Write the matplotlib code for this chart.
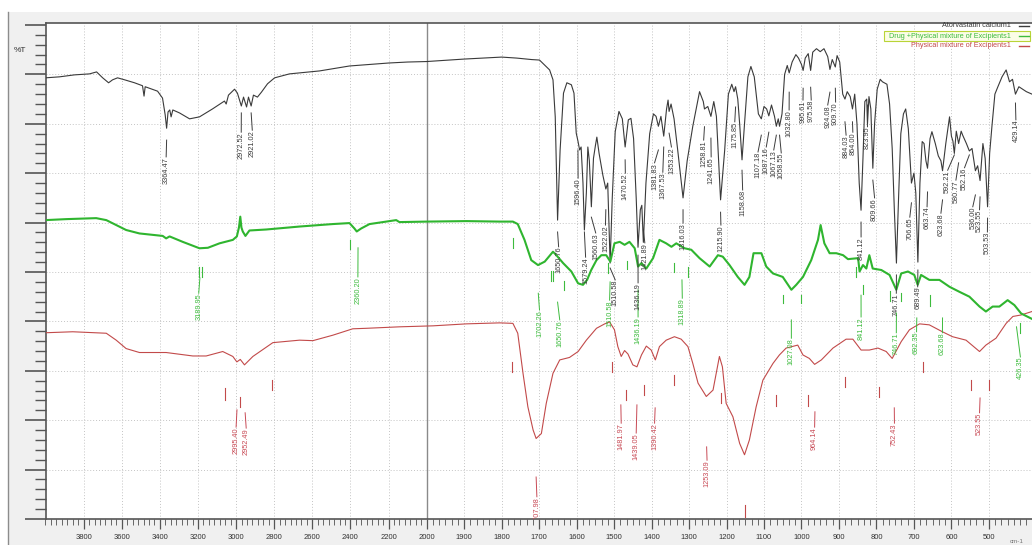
import numpy as np
import matplotlib
matplotlib.use('Agg')
import matplotlib.pyplot as plt
from matplotlib.patches import Rectangle
from matplotlib.lines import Line2D
from matplotlib.ticker import FixedLocator, NullFormatter

plt.rcParams['font.family'] = ['Liberation Sans', 'DejaVu Sans']

# ---- spectra (wavenumber cm-1, %T on a 0-100 grid) ----
black_wn = [4000, 3927, 3848, 3769, 3732, 3700, 3669, 3648, 3622, 3585, 3533, 3491, 3483, 3477,
            3412, 3386, 3372, 3364.5, 3357, 3348, 3341, 3332, 3297, 3244, 3192, 3124, 3061, 3052,
            3040, 3008, 2993, 2972.5, 2961, 2945, 2935, 2921, 2909, 2888, 2867, 2835, 2798, 2720,
            2562, 2405, 2300, 2200, 2100, 2000, 1900, 1800, 1760, 1720, 1699, 1680, 1672, 1663,
            1657, 1650.76, 1644, 1635, 1626, 1614, 1607, 1601, 1596.4, 1592, 1588, 1583, 1579.24,
            1574, 1570, 1566, 1560.63, 1555, 1550, 1546, 1540, 1530, 1522, 1517, 1510.58, 1505,
            1497, 1487, 1478, 1470.52, 1462, 1455, 1448, 1441, 1436.19, 1430, 1426, 1421.89, 1415,
            1405, 1395, 1388, 1381.83, 1375, 1367.53, 1360, 1356, 1353.22, 1348, 1340, 1330,
            1316.03, 1305, 1290, 1272, 1262, 1258.81, 1250, 1241.65, 1234, 1227, 1215.9, 1205,
            1195, 1186, 1180, 1175.85, 1170, 1165, 1158.68, 1152, 1143, 1135, 1126, 1115, 1107.18,
            1100, 1093, 1087.16, 1080, 1072, 1067.13, 1062, 1058.55, 1052, 1045, 1038, 1032.8,
            1025, 1015, 1008, 1000, 995.61, 990, 982, 975.58, 970, 960, 950, 940, 930, 924.08, 918,
            909.78, 905, 898, 890, 884.03, 878, 870, 864, 858, 852, 846, 841.12, 836, 831, 826,
            823.95, 820, 815, 809.66, 805, 798, 790, 784, 772, 765, 758, 752, 746.71, 741, 735,
            728, 722, 715, 706.65, 700, 695, 689.49, 684, 678, 673, 668, 663.74, 657, 652, 643,
            635, 628, 623.68, 615, 605, 600, 596, 592.21, 587, 580.77, 574, 570, 560, 552.16, 545,
            540, 536, 530, 523.55, 516, 510, 503.53, 498, 492, 484, 476, 465, 454, 445, 437,
            429.14, 420, 400, 385]
black_t = [89.3, 89.5, 89.9, 90.1, 90.5, 89.3, 88.3, 88.9, 89.3, 88.9, 88.3, 87.7, 85.6, 87.5,
           86.6, 85.2, 81.8, 79.1, 82.4, 82.8, 81.4, 82.8, 82.2, 81.0, 81.4, 83.0, 84.6, 84.0,
           85.8, 87.0, 86.2, 83.6, 85.4, 83.4, 85.4, 83.6, 85.8, 85.4, 86.4, 88.1, 89.3, 90.1,
           90.7, 91.7, 92.0, 92.3, 92.5, 92.6, 93.1, 93.5, 93.3, 93.0, 92.9, 91.5, 90.9, 88.9,
           81.4, 60.5, 74.7, 86.2, 88.3, 87.9, 86.2, 78.1, 76.5, 74.7, 75.3, 68.0, 58.5,
           66.0, 75.3, 72.5, 63.2, 73.0, 75.5, 77.3, 74.0, 69.6, 66.8, 68.0, 51.8, 64.8,
           78.4, 82.5, 81.0, 75.3, 80.8, 81.1, 77.0, 65.0, 55.0, 62.6, 63.5, 56.0, 68.0,
           78.0, 82.0, 81.5, 79.5, 81.5, 77.5, 83.0, 84.8, 82.5, 84.0, 81.0, 74.5,
           65.0, 72.5, 79.5, 86.5, 84.5, 83.0, 83.5, 81.5, 84.5, 81.5, 64.6, 74.6,
           86.0, 88.0, 86.5, 87.5, 85.0, 80.0, 72.7, 80.0, 89.5, 91.6, 89.5, 82.0, 81.0,
           83.5, 83.0, 81.6, 83.8, 81.5, 79.5, 81.0, 79.5, 82.0, 90.0, 91.8, 90.3,
           92.5, 94.0, 93.3, 92.0, 90.8, 93.3, 94.2, 90.8, 94.5, 95.2, 94.6, 95.2, 93.6, 91.0, 93.0,
           91.5, 93.8, 92.5, 86.0, 85.0, 86.5, 85.5, 83.0, 86.0, 80.0, 68.0, 62.5, 73.0, 84.5, 85.0,
           80.0, 85.5, 83.0, 71.0, 80.0, 87.0, 89.0, 88.5, 88.0, 84.0, 75.0, 62.0, 51.8, 65.0, 78.0,
           82.0, 83.0, 79.0, 68.0, 70.0, 66.0, 52.0, 68.0, 76.4, 76.0, 72.5, 71.0, 77.0, 78.4, 76.0,
           73.5, 72.5, 70.5, 76.0, 81.4, 77.5, 76.5, 74.0, 78.5, 76.0, 78.5, 77.7, 76.0, 74.5, 75.0,
           72.5, 70.5, 71.5, 68.5, 76.0, 73.0, 63.2, 74.0, 79.4, 86.0, 87.5, 89.5, 90.9, 88.5, 89.0,
           86.0, 87.5, 86.5, 86.0]

green_wn = [4000, 3891, 3734, 3681, 3629, 3577, 3507, 3385, 3367, 3349, 3280, 3192, 3148, 3087,
            3017, 2996, 2985, 2978, 2972, 2965, 2951, 2930, 2842, 2667, 2493, 2405, 2379, 2367,
            2344, 2300, 2230, 2160, 2143, 2000, 1894, 1805, 1770, 1757, 1739, 1721, 1703, 1685,
            1663, 1654, 1636, 1614, 1596, 1583, 1572, 1561, 1547, 1534, 1521, 1510, 1499, 1485,
            1472, 1459, 1445, 1436, 1427, 1414, 1396, 1379, 1361, 1347, 1334, 1312, 1294, 1272,
            1245, 1223, 1210, 1192, 1170, 1152, 1139, 1128, 1107, 1094, 1076, 1050, 1027, 1014,
            996, 974, 956, 949, 939, 925, 907, 889, 876, 849, 845, 836, 827, 819, 810, 787, 765,
            747, 734, 716, 699, 690, 681, 659, 632, 605, 579, 552, 525, 508, 490, 472, 450, 432,
            414, 385]
green_t = [60.5, 60.7, 60.9, 60.5, 59.5, 58.5, 57.8, 57.3, 56.8, 57.2, 56.1, 54.8, 54.9, 55.8,
           56.5, 57.2, 59.0, 61.2, 59.0, 58.2, 57.3, 58.4, 58.6, 59.2, 59.7, 59.9, 58.8, 58.2,
           58.8, 59.7, 60.1, 60.5, 60.1, 60.2, 60.3, 60.2, 60.2, 59.7, 56.5, 52.4, 51.4, 52.1,
           54.1, 53.4, 51.8, 50.1, 47.7, 47.4, 48.4, 50.4, 52.4, 53.4, 53.4, 52.1, 55.8, 56.1,
           55.5, 56.1, 54.8, 51.1, 51.8, 50.7, 52.8, 56.5, 55.8, 55.1, 55.8, 54.8, 54.5, 52.8,
           51.1, 53.4, 53.1, 51.4, 49.0, 47.4, 49.0, 53.8, 53.8, 51.1, 49.7, 49.0, 46.4, 47.4,
           49.0, 52.4, 56.5, 59.5, 55.8, 53.8, 53.8, 53.4, 52.6, 52.8, 50.1, 51.4, 50.7, 53.4,
           50.7, 50.4, 49.4, 46.4, 49.7, 50.1, 49.4, 47.4, 49.4, 48.4, 48.4, 47.0, 46.0, 45.0,
           43.0, 42.0, 43.0, 43.0, 44.3, 43.3, 41.6, 40.5]

red_wn = [4000, 3857, 3681, 3629, 3577, 3507, 3367, 3227, 3157, 3070, 3017, 2996, 2978, 2956,
          2912, 2807, 2667, 2597, 2493, 2388, 2317, 2143, 1983, 1894, 1805, 1770, 1757, 1743,
          1730, 1716, 1708, 1694, 1681, 1663, 1645, 1619, 1596, 1574, 1547, 1525, 1512, 1499,
          1490, 1481, 1472, 1463, 1450, 1439, 1427, 1414, 1401, 1390, 1379, 1361, 1339, 1321,
          1303, 1290, 1276, 1254, 1236, 1219, 1211, 1201, 1183, 1165, 1152, 1139, 1121, 1103,
          1076, 1059, 1041, 1010, 996, 979, 965, 947, 916, 881, 863, 841, 819, 796, 774, 758,
          734, 712, 685, 659, 624, 597, 561, 525, 508, 481, 454, 436, 414, 385]
red_t = [37.7, 37.9, 37.6, 36.2, 34.5, 33.7, 33.7, 33.0, 33.0, 33.9, 32.9, 31.8, 32.3, 31.2,
         32.9, 35.7, 36.2, 36.1, 37.2, 38.5, 38.6, 38.9, 39.1, 39.5, 39.7, 39.6, 37.6, 29.5,
         22.7, 18.0, 16.3, 17.3, 23.4, 29.5, 32.2, 32.7, 33.9, 36.2, 38.6, 39.5, 39.9, 38.3,
         34.9, 32.9, 34.1, 33.4, 31.2, 30.8, 33.2, 35.0, 34.2, 32.2, 34.9, 36.2, 36.9, 36.4,
         34.9, 31.5, 27.5, 24.8, 26.1, 32.9, 30.8, 23.4, 20.7, 15.3, 13.0, 16.0, 22.7, 28.1,
         31.5, 33.2, 34.6, 35.2, 33.2, 32.5, 31.3, 32.2, 34.6, 36.4, 36.4, 34.2, 34.2, 34.6,
         33.9, 32.5, 35.9, 38.3, 39.5, 39.3, 37.9, 36.9, 36.2, 33.9, 35.2, 36.6, 39.6, 41.0,
         41.3, 42.0]

# ---- peak labels: value, where the text sits, text top, leader top ----
black_peaks = [3364.47, 2972.52, 2921.02, 1650.76, 1596.40, 1579.24, 1560.63, 1522.02, 1510.58,
               1470.52, 1436.19, 1421.89, 1381.83, 1367.53, 1353.22, 1316.03, 1258.81, 1241.65,
               1215.90, 1175.85, 1158.68, 1107.18, 1087.16, 1067.13, 1058.55, 1032.80, 995.61,
               975.58, 924.08, 909.70, 884.03, 864.00, 841.12, 823.95, 809.66, 746.71, 706.65,
               689.49, 663.74, 623.68, 592.21, 580.77, 552.16, 536.00, 523.55, 503.53, 429.14]
black_text_wn = [3367, 2973, 2915, 1648, 1596, 1576, 1549, 1523, 1497, 1470, 1436, 1418, 1392,
                 1370, 1347, 1316, 1261, 1241, 1215, 1178, 1157, 1116, 1094, 1074, 1054, 1033,
                 996, 974, 930, 909, 881, 863, 841, 824, 805, 747, 711, 690, 665, 628, 610, 588,
                 565, 543, 525, 504, 428]
black_top = [73.3, 78.3, 78.7, 55.1, 69.0, 53.0, 57.9, 59.5, 48.4, 70.0, 47.8, 55.9, 72.1, 70.2,
             75.3, 59.9, 76.7, 73.3, 59.5, 80.4, 66.6, 74.3, 75.3, 74.7, 74.1, 82.8, 84.8, 84.8,
             83.8, 84.4, 77.7, 78.3, 57.1, 79.4, 65.0, 45.7, 61.1, 47.0, 63.2, 61.9, 70.6, 68.6,
             71.1, 63.2, 62.6, 58.1, 80.8]
black_lead = [76.7, 82.2, 82.2, 58.1, 74.7, 58.1, 61.1, 62.6, 50.8, 72.7, 53.4, 58.5, 74.7, 75.3,
              78.1, 62.6, 79.4, 77.1, 62.1, 83.4, 70.6, 77.7, 78.3, 77.7, 77.7, 86.4, 87.2, 87.4,
              86.4, 87.2, 80.4, 80.4, 60.1, 83.8, 68.6, 49.4, 64.0, 50.4, 66.2, 64.6, 73.7, 72.1,
              73.7, 65.6, 65.2, 60.9, 84.2]

green_peaks = [3189.95, 2360.20, 1702.26, 1650.76, 1510.58, 1436.19, 1318.89, 1027.08, 841.12,
               746.71, 692.35, 623.68, 426.35]
green_text_wn = [3196, 2361, 1699, 1645, 1512, 1436, 1318, 1027, 841, 747, 693, 624, 416]
green_top = [45.7, 49.0, 42.3, 40.3, 44.3, 40.9, 44.7, 36.6, 40.9, 37.7, 37.9, 37.7, 32.8]
green_lead = [48.8, 54.9, 45.7, 43.9, 48.0, 46.4, 48.4, 40.3, 45.3, 41.7, 40.7, 40.7, 38.9]

red_peaks = [2995.40, 2952.49, 1707.98, 1481.97, 1439.05, 1390.42, 1253.09, 964.14, 752.43, 523.55]
red_text_wn = [3000, 2947, 1706, 1481, 1441, 1392, 1252, 965, 752, 525]
red_top = [18.6, 18.4, 4.5, 19.4, 17.4, 19.4, 11.9, 18.6, 19.4, 21.5]
red_lead = [22.1, 21.5, 8.5, 23.1, 23.1, 22.5, 14.6, 21.7, 22.5, 24.5]

# unlabelled peak markers: wavenumber, top, bottom
red_marks = [(3056, 26.5, 24.0), (2978, 24.7, 22.7), (2809, 28.1, 26.1), (1773, 31.8, 29.8),
             (1506, 31.8, 29.8), (1469, 26.1, 24.1), (1419, 27.1, 25.1), (1339, 29.1, 27.1),
             (1216, 25.5, 23.5), (1067, 25.1, 22.9), (983, 25.1, 22.9), (885, 28.7, 26.7),
             (792, 26.7, 24.7), (676, 31.8, 29.8), (547, 28.1, 26.1), (499, 28.1, 26.1),
             (1152, 2.8, 0.4)]
green_marks = [(3197, 51.0, 49.0), (3181, 51.0, 49.0), (2401, 56.5, 54.7), (1770, 56.9, 54.9),
               (1669, 50.2, 48.2), (1663, 50.2, 48.2), (1634, 48.2, 46.4), (1517, 51.8, 49.8),
               (1465, 52.2, 50.6), (1341, 51.8, 50.0), (1304, 51.0, 49.0), (1050, 45.3, 43.7),
               (1001, 45.3, 43.7), (854, 51.0, 49.0), (836, 47.4, 45.5), (765, 46.2, 44.1),
               (734, 45.7, 44.1), (658, 45.3, 43.1), (418, 39.7, 37.7)]

series_names = ['Atorvastatin calcium1', 'Drug +Physical mixture of Excipients1',
                'Physical mixture of Excipients1']

xt_major = [3800, 3600, 3400, 3200, 3000, 2800, 2600, 2400, 2200, 2000,
            1900, 1800, 1700, 1600, 1500, 1400, 1300, 1200, 1100, 1000, 900, 800, 700, 600, 500]

C_BLACK = '#3a3a3a'
C_GREEN = '#2fb52f'
C_RED = '#c24a4a'

# 4000-2000 region drawn at half the scale of 2000-400
K = 0.5085


def fwd(w):
    w = np.asarray(w, dtype=float)
    return np.where(w > 2000, 2000 + (w - 2000) * K, w)


def inv(u):
    u = np.asarray(u, dtype=float)
    return np.where(u > 2000, 2000 + (u - 2000) / K, u)


fig = plt.figure(figsize=(10.32, 5.45), dpi=100)
fig.patches.append(Rectangle((8 / 1032, 0), 1, 1 - 12 / 545, transform=fig.transFigure,
                             facecolor='#f0f0f0', edgecolor='none', zorder=-5))
fig.add_artist(Line2D([8 / 1032, 8 / 1032], [0, 1 - 12 / 545], color='#8c8c8c', lw=1, zorder=-4))

ax = fig.add_axes([45.5 / 1032, 26 / 545, (1032 - 45.5) / 1032, 496 / 545])
ax.set_zorder(2)
ax.set_facecolor('white')
ax.set_xscale('function', functions=(fwd, inv))
ax.set_xlim(4000, 385)
ax.set_ylim(0, 100.4)

# grid
for w in xt_major:
    if w == 2000:
        ax.axvline(w, color='#8a8a8a', lw=1.0, zorder=1)
    else:
        ax.axvline(w, color='#c4c4c4', lw=0.7, ls=(0, (1, 2)), zorder=1)
for v in range(10, 100, 10):
    ax.axhline(v, color='#c4c4c4', lw=0.7, ls=(0, (1, 2)), zorder=1)

# spectra
ax.plot(red_wn, red_t, color=C_RED, lw=0.8, zorder=3)
ax.plot(black_wn, black_t, color=C_BLACK, lw=0.8, zorder=3)
ax.plot(green_wn, green_t, color=C_GREEN, lw=1.5, zorder=3)


def draw_labels(peaks, text_wn, tops, leads, color):
    for w, tw, t, l in zip(peaks, text_wn, tops, leads):
        ax.plot([tw, w], [t, l], color=color, lw=0.7, zorder=4)
        ax.text(tw, t, f"{w:.2f}", rotation=90, ha='center', va='top', fontsize=5.3,
                color=color, zorder=5, clip_on=True)


draw_labels(black_peaks, black_text_wn, black_top, black_lead, '#3c3c3c')
draw_labels(green_peaks, green_text_wn, green_top, green_lead, '#3dbb3d')
draw_labels(red_peaks, red_text_wn, red_top, red_lead, '#c84a55')

for w, t, b in red_marks:
    ax.plot([w, w], [b, t], color=C_RED, lw=0.8, zorder=4)
for w, t, b in green_marks:
    ax.plot([w, w], [b, t], color='#3dbb3d', lw=0.8, zorder=4)

# axes styling
ax.set_xticks(xt_major)
ax.set_xticklabels([str(w) for w in xt_major])
minor_x = list(np.arange(2000, 4000.01, 200 / 7)) + list(np.arange(400, 2000, 100 / 6))
ax.xaxis.set_minor_locator(FixedLocator(minor_x))
ax.set_yticks(range(0, 101, 10))
ax.yaxis.set_minor_locator(FixedLocator(range(0, 101, 2)))
ax.yaxis.set_major_formatter(NullFormatter())
ax.tick_params(axis='x', which='major', direction='out', length=7, width=0.9, color='#555555',
               labelsize=5.5, labelcolor='#333333', pad=4)
ax.tick_params(axis='x', which='minor', direction='out', length=4, width=0.7, color='#666666')
ax.tick_params(axis='y', which='major', direction='out', length=15, width=1.2, color='#555555')
ax.tick_params(axis='y', which='minor', direction='out', length=8, width=1.0, color='#555555')
ax.spines['right'].set_visible(False)
for s in ['left', 'top', 'bottom']:
    ax.spines[s].set_color('#555555')
    ax.spines[s].set_linewidth(1.2)

fig.text(20 / 1032, 1 - 50 / 545, '%T', fontsize=6, color='#333333', ha='center', va='center')
fig.text(1010 / 1032, 0.002, 'cm-1', fontsize=4.5, color='#777777', ha='left', va='bottom')

# legend
ax.add_patch(Rectangle((0.85, 0.964), 0.148, 0.019, transform=ax.transAxes,
                       facecolor='#fbfde6', edgecolor='#b9d437', lw=0.8, zorder=6, clip_on=False))
leg_y = [0.994, 0.9735, 0.954]
for name, col, y in zip(series_names, [C_BLACK, '#3dbb3d', C_RED], leg_y):
    ax.text(0.979, y, name, transform=ax.transAxes, ha='right', va='center', fontsize=5.2,
            color=col, zorder=7)
    ax.plot([0.987, 0.997], [y, y], transform=ax.transAxes, color=col, lw=1.0, zorder=7,
            clip_on=False)

fig.savefig('out.png', dpi=100, facecolor='white')
